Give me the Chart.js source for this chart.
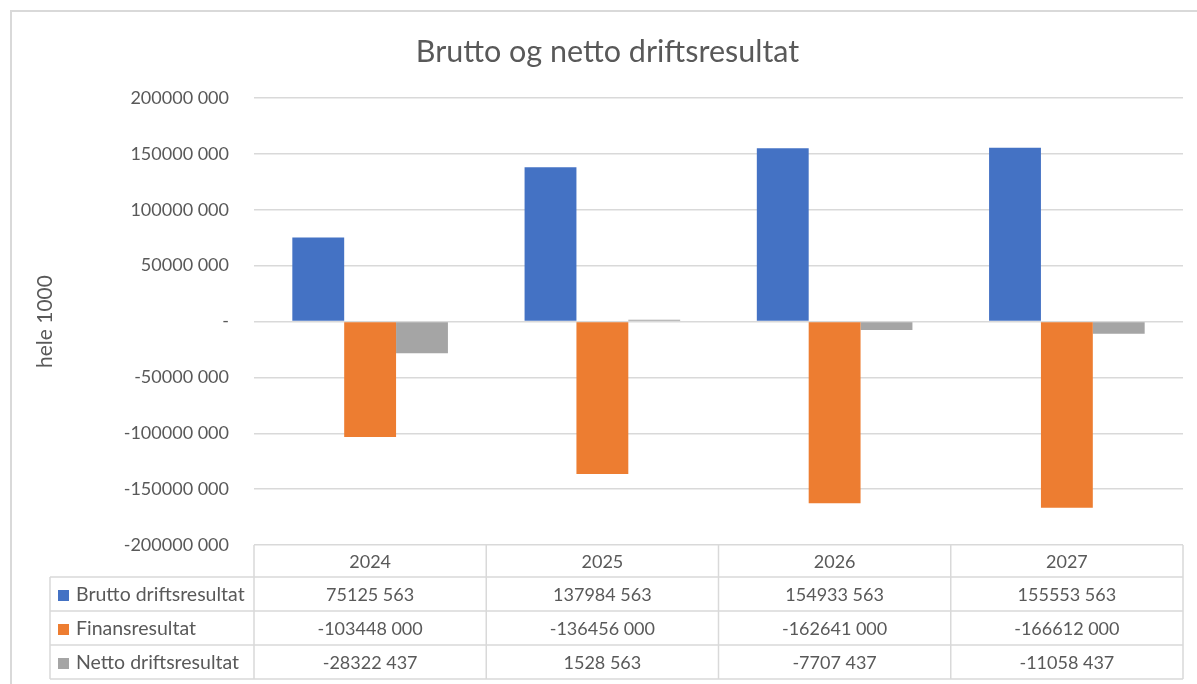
<!DOCTYPE html>
<html>
<head>
    <title>Brutto og netto driftsresultat</title>
    <script src="https://cdn.jsdelivr.net/npm/chart.js"></script>
    <style>
        body { margin: 0; overflow: hidden; background: #fff; }
        #frame { position: absolute; left: 10px; top: 10px; width: 1300px; height: 800px; border: 2px solid #d9d9d9; }
        #wrap { position: absolute; left: 0; top: 0; width: 1197px; height: 684px; }
    </style>
</head>
<body>
    <div id="frame"></div>
    <div id="wrap">
        <canvas id="resultGraph" width="1197" height="684"></canvas>
    </div>

    <script>
        // data
        const years = ["2024", "2025", "2026", "2027"];
        const brutto = [75125563, 137984563, 154933563, 155553563];
        const finans = [-103448000, -136456000, -162641000, -166612000];
        const netto = [-28322437, 1528563, -7707437, -11058437];

        const seriesNames = ["Brutto driftsresultat", "Finansresultat", "Netto driftsresultat"];
        const seriesColors = ["#4472C4", "#ED7D31", "#A5A5A5"];

        const textColor = "#595959";
        const lineColor = "#d9d9d9";
        const fontName = "Lato, 'Open Sans', sans-serif";

        // Excel style number: 75125 563, zero shown as "-"
        function fmt(v) {
            if (v === 0) return "-";
            const a = Math.abs(Math.round(v));
            const hi = Math.floor(a / 1000);
            const lo = String(a % 1000).padStart(3, "0");
            return (v < 0 ? "-" : "") + (hi > 0 ? hi + " " + lo : String(a % 1000));
        }

        // draws the data table under the plot
        const dataTable = {
            id: "dataTable",
            afterDraw(chart) {
                const ctx = chart.ctx;
                const x = chart.scales.x;
                const area = chart.chartArea;
                const colW = (x.right - x.left) / years.length;
                const headTop = area.bottom;
                const headH = 32;
                const rowH = 34;
                const leftX = 50;
                const allSeries = [brutto, finans, netto];

                ctx.save();
                ctx.strokeStyle = lineColor;
                ctx.lineWidth = 1.5;

                // header row
                ctx.beginPath();
                ctx.moveTo(x.left, headTop + headH);
                ctx.lineTo(x.right, headTop + headH);
                for (let i = 0; i <= years.length; i++) {
                    ctx.moveTo(x.left + i * colW, headTop);
                    ctx.lineTo(x.left + i * colW, headTop + headH + rowH * 3);
                }
                // body rows
                for (let r = 1; r <= 3; r++) {
                    const y = headTop + headH + r * rowH;
                    ctx.moveTo(leftX, y);
                    ctx.lineTo(x.right, y);
                }
                ctx.moveTo(leftX, headTop + headH);
                ctx.lineTo(x.left, headTop + headH);
                ctx.moveTo(leftX, headTop + headH);
                ctx.lineTo(leftX, headTop + headH + rowH * 3);
                ctx.stroke();

                ctx.fillStyle = textColor;
                ctx.font = "18px " + fontName;
                ctx.textBaseline = "middle";
                ctx.textAlign = "center";
                years.forEach((yr, i) => {
                    ctx.fillText(yr, x.getPixelForValue(i), headTop + headH / 2 + 1);
                });

                allSeries.forEach((vals, r) => {
                    const cy = headTop + headH + r * rowH + rowH / 2 + 1;
                    ctx.fillStyle = seriesColors[r];
                    ctx.fillRect(leftX + 8, cy - 5, 11, 11);
                    ctx.fillStyle = textColor;
                    ctx.textAlign = "left";
                    ctx.font = "19.5px " + fontName;
                    ctx.fillText(seriesNames[r], leftX + 26, cy);
                    ctx.font = "18px " + fontName;
                    ctx.textAlign = "center";
                    vals.forEach((v, i) => {
                        ctx.fillText(fmt(v), x.getPixelForValue(i), cy);
                    });
                });
                ctx.restore();
            }
        };

        const ctx = document.getElementById("resultGraph").getContext("2d");
        const myChart = new Chart(ctx, {
            type: "bar",
            data: {
                labels: years,
                datasets: [
                    { label: seriesNames[0], data: brutto, backgroundColor: seriesColors[0] },
                    { label: seriesNames[1], data: finans, backgroundColor: seriesColors[1] },
                    { label: seriesNames[2], data: netto, backgroundColor: seriesColors[2] }
                ]
            },
            options: {
                responsive: false,
                animation: false,
                layout: { padding: { left: 32, right: 14, top: 0, bottom: 139 } },
                datasets: {
                    bar: { categoryPercentage: 0.67, barPercentage: 1 }
                },
                plugins: {
                    legend: { display: false },
                    tooltip: { enabled: false },
                    title: {
                        display: true,
                        text: "Brutto og netto driftsresultat",
                        color: textColor,
                        font: { family: fontName, size: 30.5, weight: "normal" },
                        padding: { top: 33.7, bottom: 27.7 }
                    }
                },
                scales: {
                    x: { display: false },
                    y: {
                        min: -200000000,
                        max: 200000000,
                        afterFit(scale) { scale.width = 222; },
                        border: { display: false },
                        grid: { color: lineColor, lineWidth: 1.5, drawTicks: false },
                        ticks: {
                            stepSize: 50000000,
                            padding: 25,
                            color: textColor,
                            font: { family: fontName, size: 18 },
                            callback: (v) => fmt(v)
                        },
                        title: {
                            display: true,
                            text: "hele 1000",
                            color: textColor,
                            font: { family: fontName, size: 21 },
                            padding: { top: 0.4, bottom: 0 }
                        }
                    }
                }
            },
            plugins: [dataTable]
        });
    </script>
</body>
</html>
